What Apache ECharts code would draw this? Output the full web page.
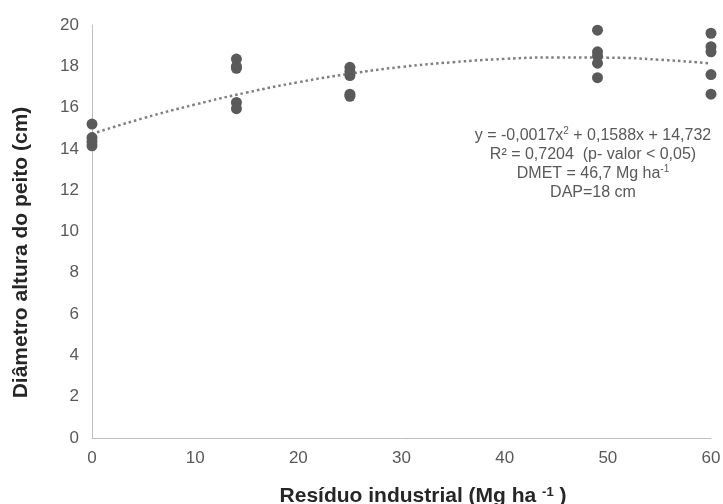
<!DOCTYPE html>
<html><head><meta charset="utf-8">
<script src="https://cdn.jsdelivr.net/npm/echarts@6/dist/echarts.min.js"></script>
<style>html,body{margin:0;padding:0;background:#fff}#c{width:723px;height:504px}</style>
</head><body><div id="c"></div>
<script>
// Observed points (x = residue dose, y = DAP)
var obsX = [0,0,0,0, 14,14,14,14,14, 25,25,25,25,25, 49,49,49,49,49, 60,60,60,60,60];
var obsY = [15.2,14.55,14.35,14.15, 18.35,18.0,17.9,16.25,15.95, 17.95,17.75,17.55,16.65,16.55, 19.75,18.7,18.5,18.15,17.45, 19.6,18.95,18.7,17.6,16.65];
// Dotted trend line
var trendX = [0,5,10,15,20,25,30,35,40,45,50,55,60];
var trendY = [14.73,15.49,16.15,16.73,17.23,17.64,17.97,18.20,18.36,18.43,18.42,18.32,18.14];
var xTicks = [0,10,20,30,40,50,60];
var yTicks = [0,2,4,6,8,10,12,14,16,18,20];

var points = obsX.map(function(x,i){return [x, obsY[i]];});
var trend = trendX.map(function(x,i){return [x, trendY[i]];});
var font = '"Liberation Sans", Arial, sans-serif';
var grey = '#595959';

var chart = echarts.init(document.getElementById('c'));
chart.setOption({
  animation: false,
  textStyle: {fontFamily: font},
  grid: {left: 92, right: 12, top: 25, bottom: 66, containLabel: false, outerBoundsMode: 'none'},
  xAxis: {
    type: 'value', min: xTicks[0], max: xTicks[xTicks.length-1], interval: 10,
    splitLine: {show: false},
    axisLine: {show: true, lineStyle: {color: '#bfbfbf', width: 1}},
    axisTick: {show: false},
    axisLabel: {color: grey, fontSize: 17, margin: 12, fontFamily: font},
    name: '{t|Resíduo industrial (Mg ha }{s|-1}{t| )}',
    nameLocation: 'middle', nameGap: 48,
    nameTextStyle: {
      padding: [0, 0, 0, 43],
      rich: {
        t: {fontSize: 21, fontWeight: 'bold', color: '#262626', fontFamily: font},
        s: {fontSize: 13, fontWeight: 'bold', color: '#262626', fontFamily: font, verticalAlign: 'top', padding: [0,0,8,0]}
      }
    }
  },
  yAxis: {
    type: 'value', min: yTicks[0], max: yTicks[yTicks.length-1], interval: 2,
    splitLine: {show: false},
    axisLine: {show: true, lineStyle: {color: '#bfbfbf', width: 1}},
    axisTick: {show: false},
    axisLabel: {color: grey, fontSize: 17, margin: 13, fontFamily: font},
    name: 'Diâmetro altura do peito (cm)',
    nameLocation: 'middle', nameGap: 60,
    nameTextStyle: {fontSize: 21, fontWeight: 'bold', color: '#262626', fontFamily: font, padding: [0, 42, 0, 0]}
  },
  series: [
    {
      type: 'line', data: trend, smooth: true, symbol: 'none', z: 1,
      lineStyle: {color: '#7f7f7f', width: 2.5, type: [2.5, 3]}
    },
    {
      type: 'scatter', data: points, symbol: 'circle', symbolSize: 11, z: 2,
      itemStyle: {color: '#5a5a5a', opacity: 1}
    }
  ],
  graphic: [{
    type: 'text', x: 593, y: 126,
    style: {
      text: '{a|y = -0,0017x}{s|2}{a| + 0,1588x + 14,732}\n{a|R² = 0,7204  (p- valor < 0,05)}\n{a|DMET = 46,7 Mg ha}{s|-1}\n{a|DAP=18 cm}',
      align: 'center', verticalAlign: 'top',
      fill: grey, fontFamily: font,
      rich: {
        a: {fontSize: 16, color: grey, fontFamily: font, lineHeight: 19},
        s: {fontSize: 10, color: grey, fontFamily: font, verticalAlign: 'top', lineHeight: 19, padding: [0,0,7,0]}
      }
    }
  }]
});
</script></body></html>
